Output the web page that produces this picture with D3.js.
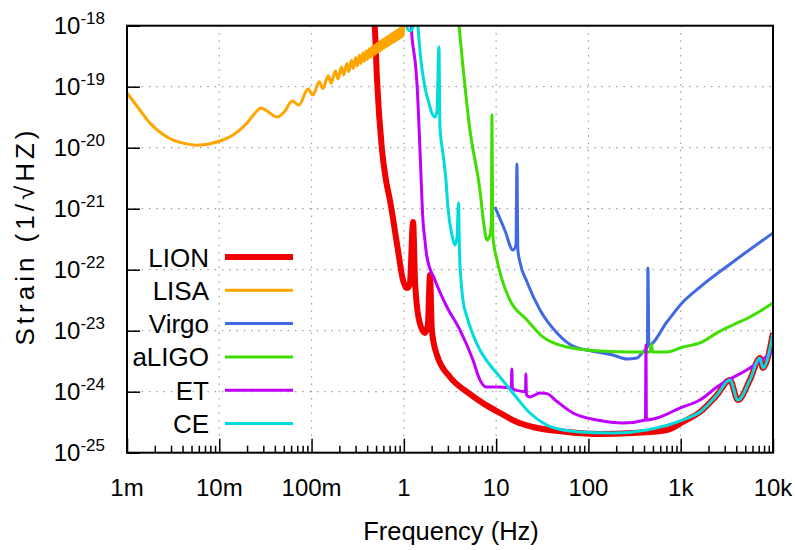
<!DOCTYPE html>
<html><head><meta charset="utf-8">
<script src="https://cdn.jsdelivr.net/npm/d3@7"></script>
<style>
html,body{margin:0;padding:0;background:#fff;}
svg{display:block;}
text{font-family:"Liberation Sans",Arial,sans-serif;fill:#000;}
</style></head>
<body>
<svg id="chart" width="795" height="550"></svg>
<script>
// ---- data ----
const seriesNames = ["LION","LISA","Virgo","aLIGO","ET","CE"];
const seriesColors = ["#f00000","#ffa500","#4169e1","#3fdd00","#c000ff","#00dcdc"];
const seriesWidths = [6,3,3,3,3,3];

const xTickValues = [1e-3,1e-2,1e-1,1,10,100,1000,10000];
const xTickLabels = ["1m","10m","100m","1","10","100","1k","10k"];
const yTickValues = [1e-18,1e-19,1e-20,1e-21,1e-22,1e-23,1e-24,1e-25];
const yTickExponents = ["-18","-19","-20","-21","-22","-23","-24","-25"];

const LION = [
 [0.462,1.8e-18],[0.486,8.5e-19],[0.512,1.29e-19],[0.58,9.1e-21],[0.64,2.95e-21],
 [0.706,1.39e-21],[0.863,2.1e-22],[0.977,6.8e-23],[1.08,5.0e-23],[1.16,5.8e-23],
 [1.26,6.05e-22],[1.32,6.8e-23],[1.46,1.5e-23],[1.69,9.2e-24],[1.82,1.24e-23],
 [1.92,8.2e-23],[2.01,1.03e-23],[2.28,4.0e-24],[3.16,1.74e-24],[4.83,9.9e-25],
 [7.19,6.5e-25],[11.0,4.48e-25],[16.8,3.18e-25],[25.0,2.64e-25],[58.5,2.19e-25],
 [133,2.03e-25],[303,2.1e-25],[708,2.36e-25],[1057,3.2e-25],[1615,4.65e-25],
 [2466,8.8e-25],[3412,1.56e-24],[4170,7.3e-25],[5620,1.56e-24],[7210,3.56e-24],
 [7780,2.45e-24],[10000,9.2e-24]
];

const LISA = [
 [1.0e-3,7.9e-20],[1.38e-3,4.15e-20],[1.77e-3,2.54e-20],[2.71e-3,1.5e-20],[4.05e-3,1.19e-20],
 [5.73e-3,1.1e-20],[9.44e-3,1.24e-20],[1.41e-2,1.61e-20],[2.0e-2,2.54e-20],[2.44e-2,3.7e-20],
 [2.83e-2,4.48e-20],[3.29e-2,4.0e-20],[4.22e-2,3.18e-20],[5.15e-2,4.0e-20],[6.14e-2,5.83e-20],
 [7.3e-2,5.0e-20],[9.14e-2,9.2e-20],[0.1035,7.3e-20],
 [0.121,1.21e-19],[0.133,9.3e-20],[0.151,1.51e-19],[0.163,1.14e-19],[0.181,1.81e-19],[0.193,1.35e-19],
 [0.211,2.11e-19],[0.223,1.56e-19],[0.241,2.41e-19],[0.253,1.77e-19],[0.271,2.71e-19],[0.283,1.98e-19],
 [0.301,3.0e-19],[0.313,2.19e-19],[0.331,3.3e-19],[0.343,2.4e-19],[0.361,3.6e-19],[0.373,2.6e-19],
 [0.391,3.9e-19],[0.403,2.8e-19],[0.421,4.2e-19],[0.433,3.0e-19],[0.451,4.5e-19],[0.463,3.2e-19],
 [0.481,4.8e-19],[0.493,3.45e-19],[0.511,5.1e-19],[0.523,3.65e-19],[0.541,5.4e-19],[0.553,3.85e-19],
 [0.571,5.7e-19],[0.583,4.1e-19],[0.601,6.0e-19],[0.613,4.3e-19],[0.631,6.3e-19],[0.643,4.5e-19],
 [0.661,6.6e-19],[0.673,4.7e-19],[0.691,6.9e-19],[0.703,4.9e-19],[0.721,7.2e-19],[0.733,5.1e-19],
 [0.751,7.5e-19],[0.763,5.3e-19],[0.781,7.8e-19],[0.793,5.5e-19],[0.811,8.1e-19],[0.823,5.7e-19],
 [0.841,8.4e-19],[0.853,5.9e-19],[0.871,8.7e-19],[0.883,6.1e-19],[0.901,9.0e-19],[0.913,6.3e-19],
 [0.931,9.3e-19],[0.943,6.5e-19],[0.961,9.6e-19],[0.973,6.7e-19],[1.0,1.0e-18]
];

const Virgo = [
 [9.7,1.07e-21],[12.4,4.48e-22],[15.2,2.1e-22],[16.4,2.54e-22],[16.8,5.4e-21],[17.2,2.1e-22],
 [18.1,1.34e-22],[21.6,6.3e-23],[29.9,2.18e-23],[45.6,9.2e-24],[68,5.6e-24],[124,4.48e-24],
 [184,4.0e-24],[261,3.44e-24],[335,3.56e-24],[389,4.48e-24],[436,5.4e-24],[441,1.07e-22],
 [452,5.83e-24],[708,1.39e-23],[1057,2.95e-23],[1615,5.2e-23],[3680,1.34e-22],[10000,4.0e-22]
];

const aLIGO = [
 [3.86,1.5e-18],[5.2,1.95e-20],[6.67,2.03e-21],[7.38,5.4e-22],[7.94,3.07e-22],[8.57,3.68e-22],
 [8.9,6.5e-22],[9.0,3.44e-20],[9.2,3.68e-22],[10.2,1.44e-22],[11.6,6.8e-23],[14.1,3.18e-23],
 [21.6,1.5e-23],[32.1,7.9e-24],[58.5,5.4e-24],[133,4.65e-24],[303,4.48e-24],[464,4.48e-24],
 [482,6.05e-24],[495,4.48e-24],[708,4.48e-24],[1057,5.4e-24],[1615,6.3e-24],[2466,9.2e-24],
 [3680,1.24e-23],[5620,1.68e-23],[10000,2.84e-23]
];

const ET = [
 [1.19,1.5e-18],[1.22,7.0e-19],[1.26,4.48e-19],[1.32,2.74e-19],[1.39,1.07e-19],[1.50,8.2e-21],
 [1.61,6.5e-22],[1.69,3.07e-22],[1.78,1.61e-22],[2.17,6.8e-23],[2.93,2.45e-23],[4.05,1.03e-23],
 [5.61,3.3e-24],[6.67,1.56e-24],[7.76,1.19e-24],[11.0,1.19e-24],[14.6,1.16e-24],[14.8,2.35e-24],
 [15.0,1.13e-24],[17.2,1.04e-24],[20.8,1.0e-24],[21.0,1.95e-24],[21.3,8.9e-25],[23.2,8.2e-25],
 [29.9,9.5e-25],[35.5,9.3e-25],[45.6,6.9e-25],[68,4.48e-25],[124,3.44e-25],[237,3.07e-25],
 [415,3.44e-25],[420,5.83e-24],[425,3.44e-25],[552,3.7e-25],[980,5.4e-25],[1615,7.3e-25],
 [2466,1.19e-24],[5620,2.45e-24],[10000,4.48e-24]
];

const CE = [
 [1.0,5.6e-18],[1.08,9.5e-19],[1.16,8.2e-19],[1.26,9.5e-19],[1.35,3.8e-18],[1.42,1.0e-18],
 [1.53,2.74e-19],[1.69,9.9e-20],[1.87,5.4e-20],[2.01,3.7e-20],[2.17,3.18e-20],[2.28,3.85e-20],
 [2.40,4.48e-19],[2.46,2.18e-20],[2.65,8.2e-21],[2.86,2.95e-21],[3.0,1.07e-21],[3.32,3.7e-22],
 [3.58,2.54e-22],[3.76,3.3e-22],[3.91,1.24e-21],[4.0,2.1e-22],[4.16,6.8e-23],[4.37,3.18e-23],
 [4.83,1.68e-23],[5.47,9.5e-24],[6.67,4.83e-24],[8.57,2.74e-24],[11.0,1.74e-24],[15.2,9.5e-25],
 [23.2,4.48e-25],[35.5,2.84e-25],[53,2.36e-25],[81,2.19e-25],[184,2.1e-25],[430,2.36e-25],
 [1057,3.44e-25],[1615,4.65e-25],[2466,8.8e-25],[3412,1.56e-24],[4170,7.3e-25],[5620,1.56e-24],
 [7210,3.56e-24],[7780,2.45e-24],[10000,9.2e-24]
];

const allSeries = [LION, LISA, Virgo, aLIGO, ET, CE];

// ---- layout ----
const svg = d3.select("#chart");
const L = 127, R = 773, T = 25.7, B = 452.7;
const x = d3.scaleLog().domain([1e-3,1e4]).range([L,R]);
const y = d3.scaleLog().domain([1e-25,1e-18]).range([B,T]);

// grid
const grid = svg.append("g");
xTickValues.slice(1,-1).forEach(v=>{
  grid.append("line").attr("x1",x(v)).attr("x2",x(v)).attr("y1",T).attr("y2",B)
   .attr("stroke","#a0a0a0").attr("stroke-width",1.2).attr("stroke-dasharray","1.5,5.8");
});
yTickValues.slice(1,-1).forEach(v=>{
  grid.append("line").attr("x1",L).attr("x2",R).attr("y1",y(v)).attr("y2",y(v))
   .attr("stroke","#a0a0a0").attr("stroke-width",1.2).attr("stroke-dasharray","1.5,5.8");
});

// bottom axis ticks (inward), major + minor
const xAxis = d3.axisBottom(x).tickValues(xTickValues).tickSize(-14).tickFormat("");
const gx = svg.append("g").attr("transform",`translate(0,${B})`).call(xAxis);
gx.select(".domain").remove();
gx.selectAll(".tick line").attr("stroke","#000").attr("stroke-width",1.5);
const minor = [];
for (let i=0;i<xTickValues.length-1;i++) for (let k=2;k<=9;k++) minor.push(xTickValues[i]*k);
const gxm = svg.append("g").attr("transform",`translate(0,${B})`)
  .call(d3.axisBottom(x).tickValues(minor).tickSize(-7).tickFormat(""));
gxm.select(".domain").remove();
gxm.selectAll(".tick line").attr("stroke","#000").attr("stroke-width",1.5);

// left axis ticks
const gy = svg.append("g").attr("transform",`translate(${L},0)`)
  .call(d3.axisLeft(y).tickValues(yTickValues).tickSize(-13).tickFormat(""));
gy.select(".domain").remove();
gy.selectAll(".tick line").attr("stroke","#000").attr("stroke-width",1.5);

// x tick labels
xTickValues.forEach((v,i)=>{
  svg.append("text").attr("x",x(v)).attr("y",B+43).attr("text-anchor","middle")
    .attr("font-size",24).text(xTickLabels[i]);
});
// y tick labels
yTickValues.forEach((v,i)=>{
  const t = svg.append("text").attr("x",105).attr("y",y(v)+8).attr("text-anchor","end").attr("font-size",24);
  t.append("tspan").text("10");
  t.append("tspan").attr("dy",-10).attr("font-size",17).text(yTickExponents[i]);
});

// axis titles
svg.append("text").attr("x",451).attr("y",540).attr("text-anchor","middle")
  .attr("font-size",25.5).text("Frequency (Hz)");
svg.append("text").attr("transform","translate(34,238) rotate(-90)").attr("text-anchor","middle")
  .attr("font-size",26).attr("textLength",215).attr("lengthAdjust","spacing")
  .text("Strain (1/\u221AHZ)");

// clip
svg.append("clipPath").attr("id","clip").append("rect")
  .attr("x",L).attr("y",T).attr("width",R-L).attr("height",B-T);

const line = d3.line().x(d=>x(d[0])).y(d=>y(d[1])).curve(d3.curveMonotoneX);
const plot = svg.append("g").attr("clip-path","url(#clip)");
allSeries.forEach((s,i)=>{
  plot.append("path").datum(s).attr("d",line).attr("fill","none")
    .attr("stroke",seriesColors[i]).attr("stroke-width",seriesWidths[i])
    .attr("stroke-linejoin","round").attr("stroke-linecap","butt");
});

// frame
svg.append("rect").attr("x",L).attr("y",T).attr("width",R-L).attr("height",B-T)
  .attr("fill","none").attr("stroke","#000").attr("stroke-width",2);

// legend
seriesNames.forEach((n,i)=>{
  const yy = 257 + i*33.3;
  svg.append("text").attr("x",209).attr("y",yy+9.5).attr("text-anchor","end")
    .attr("font-size",26).text(n);
  svg.append("line").attr("x1",225).attr("x2",293).attr("y1",yy).attr("y2",yy)
    .attr("stroke",seriesColors[i]).attr("stroke-width",seriesWidths[i]);
});
</script>
</body></html>
